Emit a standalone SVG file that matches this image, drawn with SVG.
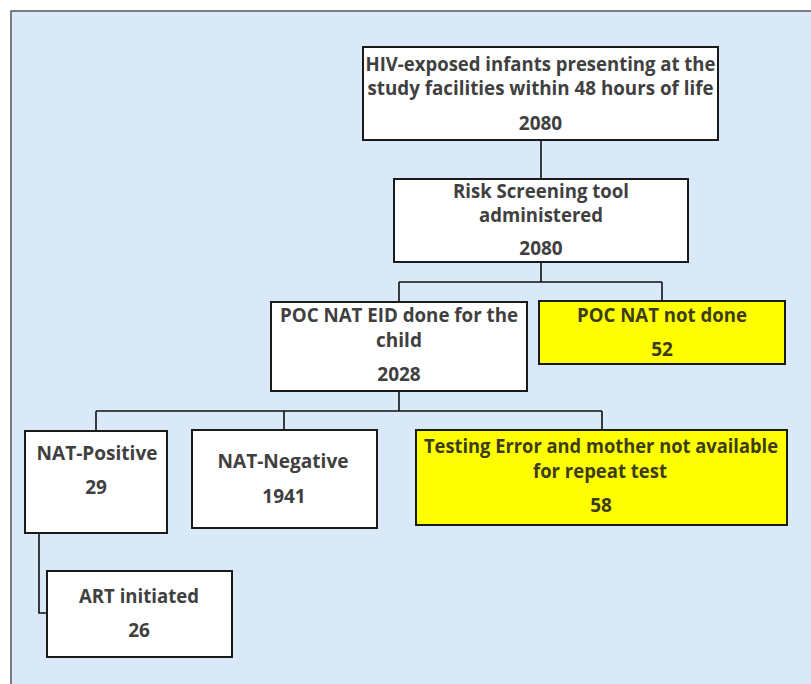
<svg xmlns="http://www.w3.org/2000/svg" width="811" height="684" viewBox="0 0 811 684">
<style>
.bg{fill:#dae9f7;stroke:#555;stroke-width:1.5}
.box{fill:#fff;stroke:#1a1a1a;stroke-width:2}
.ybox{fill:#ffff00;stroke:#1a1a1a;stroke-width:2}
.t{font-family:"Open Sans","Liberation Sans",sans-serif;font-weight:bold;font-size:19px;fill:#404040;text-anchor:middle}
.ty{fill:#3c3c18}
.c{fill:none;stroke:#111;stroke-width:1.6}
</style>
<rect class="bg" x="11" y="11" width="810" height="700"/>
<g id="connectors">
<path class="c" d="M541,140V179"/>
<path class="c" d="M541,262V282M399,282H662M399,282V302M662,282V301"/>
<path class="c" d="M399,391V411M96,411H602M96,411V431M284,411V430M602,411V430"/>
<path class="c" d="M39,533V613H47"/>
</g>
<g id="n1">
<rect class="box" x="363" y="47" width="355" height="93"/>
<text class="t" x="540.5" y="71" textLength="350" lengthAdjust="spacingAndGlyphs">HIV-exposed infants presenting at the</text>
<text class="t" x="540.5" y="95" textLength="346" lengthAdjust="spacingAndGlyphs">study facilities within 48 hours of life</text>
<text class="t" x="540.5" y="130">2080</text>
</g>
<g id="n2">
<rect class="box" x="394" y="179" width="294" height="83"/>
<text class="t" x="541" y="198" textLength="176" lengthAdjust="spacingAndGlyphs">Risk Screening tool</text>
<text class="t" x="541" y="222" textLength="124" lengthAdjust="spacingAndGlyphs">administered</text>
<text class="t" x="541" y="255">2080</text>
</g>
<g id="n3">
<rect class="box" x="271" y="302" width="256" height="89"/>
<text class="t" x="399" y="322" textLength="238" lengthAdjust="spacingAndGlyphs">POC NAT EID done for the</text>
<text class="t" x="399" y="347">child</text>
<text class="t" x="399" y="381">2028</text>
</g>
<g id="n4">
<rect class="ybox" x="539" y="301" width="246" height="63"/>
<text class="t ty" x="662" y="322" textLength="170" lengthAdjust="spacingAndGlyphs">POC NAT not done</text>
<text class="t ty" x="662" y="356">52</text>
</g>
<g id="n5">
<rect class="box" x="25" y="431" width="142" height="102"/>
<text class="t" x="97" y="460" textLength="121" lengthAdjust="spacingAndGlyphs">NAT-Positive</text>
<text class="t" x="96" y="494">29</text>
</g>
<g id="n6">
<rect class="box" x="192" y="430" width="185" height="98"/>
<text class="t" x="283" y="468" textLength="131" lengthAdjust="spacingAndGlyphs">NAT-Negative</text>
<text class="t" x="284" y="503">1941</text>
</g>
<g id="n7">
<rect class="ybox" x="416" y="430" width="371" height="95"/>
<text class="t ty" x="601" y="453" textLength="354" lengthAdjust="spacingAndGlyphs">Testing Error and mother not available</text>
<text class="t ty" x="600" y="478" textLength="134" lengthAdjust="spacingAndGlyphs">for repeat test</text>
<text class="t ty" x="601" y="512">58</text>
</g>
<g id="n8">
<rect class="box" x="47" y="571" width="185" height="86"/>
<text class="t" x="139" y="603" textLength="120" lengthAdjust="spacingAndGlyphs">ART initiated</text>
<text class="t" x="139" y="637">26</text>
</g>
</svg>
